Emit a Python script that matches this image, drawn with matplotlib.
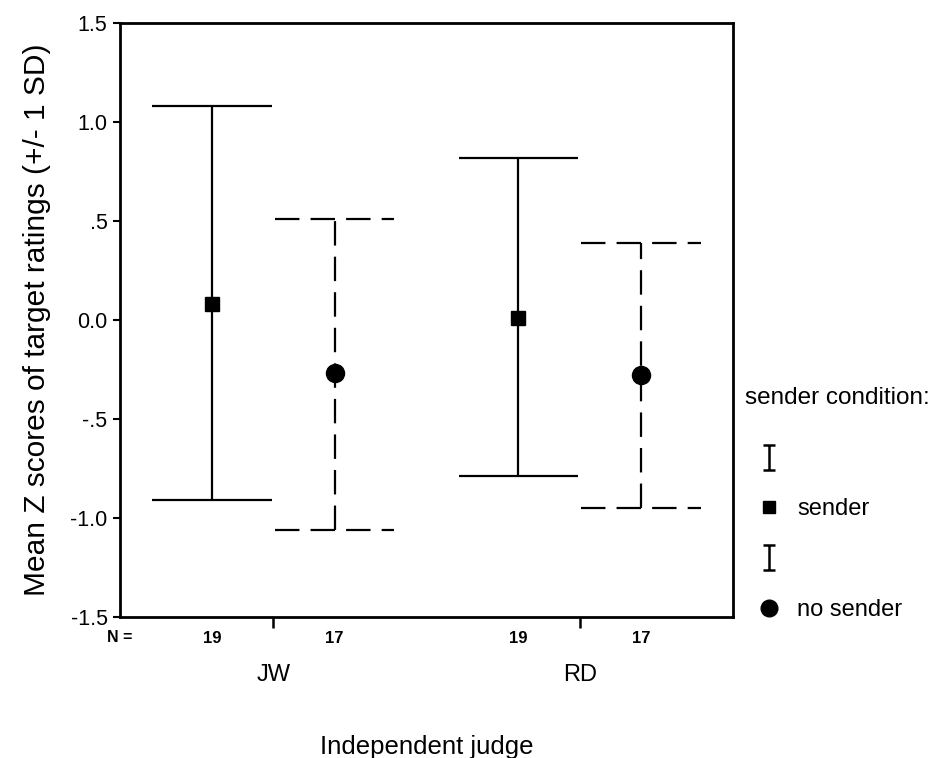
import numpy as np
import matplotlib
matplotlib.use("Agg")
import matplotlib.pyplot as plt
from matplotlib.lines import Line2D
from matplotlib.path import Path
import matplotlib.transforms as mtransforms

plt.rcParams['font.family'] = ['Liberation Sans', 'DejaVu Sans']

# data
judges = ["JW", "RD"]
conditions = ["sender", "no sender"]
mean_sender = [0.08, 0.01]
upper_sender = [1.08, 0.82]
lower_sender = [-0.91, -0.79]
mean_nosender = [-0.27, -0.28]
upper_nosender = [0.51, 0.39]
lower_nosender = [-1.06, -0.95]
n_sender = [19, 19]
n_nosender = [17, 17]

offset = 0.2
cap = 0.195
dash = (0, (11, 5))

fig = plt.figure(figsize=(9.34, 7.58), dpi=100)
ax = fig.add_axes([120 / 934, 1 - 617 / 758, 613 / 934, 594 / 758])

g = np.arange(len(judges))
xs = g - offset
xn = g + offset

# sender: solid
ax.vlines(xs, lower_sender, upper_sender, color="black", lw=1.6)
ax.hlines(upper_sender, xs - cap, xs + cap, color="black", lw=1.6)
ax.hlines(lower_sender, xs - cap, xs + cap, color="black", lw=1.6)
ax.plot(xs, mean_sender, ls="none", marker="s", ms=9.5, color="black")

# no sender: dashed
ax.vlines(xn, lower_nosender, upper_nosender, color="black", lw=1.6, linestyles=[dash])
ax.hlines(upper_nosender, xn - cap, xn + cap, color="black", lw=1.6, linestyles=[dash])
ax.hlines(lower_nosender, xn - cap, xn + cap, color="black", lw=1.6, linestyles=[dash])
ax.plot(xn, mean_nosender, ls="none", marker="o", ms=13, color="black")

ax.set_xlim(-0.5, len(judges) - 0.5)
ax.set_ylim(-1.5, 1.5)
yt = [-1.5, -1.0, -0.5, 0.0, 0.5, 1.0, 1.5]
ax.set_yticks(yt)
ax.set_yticklabels(["-1.5", "-1.0", "-.5", "0.0", ".5", "1.0", "1.5"])
ax.tick_params(axis="y", labelsize=15.5, length=5, width=1.5, pad=4)

# N counts as major tick labels, group ticks as minor ticks
pos = np.sort(np.concatenate([xs, xn]))
labels = []
for i in range(len(judges)):
    labels += [str(n_sender[i]), str(n_nosender[i])]
ax.set_xticks(pos)
ax.set_xticklabels(labels, fontsize=12, fontweight="bold")
ax.tick_params(axis="x", which="major", length=0, pad=10)
ax.set_xticks(g, minor=True)
ax.tick_params(axis="x", which="minor", length=8, width=1.8)

for sp in ax.spines.values():
    sp.set_linewidth(2)

trans = mtransforms.blended_transform_factory(ax.transData, ax.transAxes)
for i, j in enumerate(judges):
    ax.text(g[i], -0.097, j, transform=trans, ha="center", va="center", fontsize=17)
ax.text(0.0, -0.034, "N =", transform=ax.transAxes, ha="center", va="center",
        fontsize=11.5, fontweight="bold")

ax.set_ylabel("Mean Z scores of target ratings (+/- 1 SD)", fontsize=21.5, labelpad=14)
ax.set_xlabel("Independent judge", fontsize=18.5, labelpad=64)

# legend
fig.text(745 / 934, 1 - 398 / 758, "sender condition:", ha="left", va="center", fontsize=17.5)
ibar = Path([(-0.5, 1), (0.5, 1), (0, 1), (0, -1), (-0.5, -1), (0.5, -1)],
            [Path.MOVETO, Path.LINETO, Path.MOVETO, Path.LINETO, Path.MOVETO, Path.LINETO])
h_bar1 = Line2D([], [], ls="none", marker=ibar, ms=18, mfc="none", mec="black", mew=1.8)
h_sq = Line2D([], [], ls="none", marker="s", ms=8, color="black")
h_bar2 = Line2D([], [], ls="none", marker=ibar, ms=18, mfc="none", mec="black", mew=1.8)
h_ci = Line2D([], [], ls="none", marker="o", ms=12, color="black")
leg = fig.legend([h_bar1, h_sq, h_bar2, h_ci], ["", conditions[0], "", conditions[1]],
                 loc="upper left", bbox_to_anchor=(745 / 934, 1 - 448 / 758),
                 frameon=False, fontsize=17, handlelength=2.0,
                 handletextpad=0.2, labelspacing=1.2, borderpad=0,
                 borderaxespad=0)

fig.savefig("out.png", dpi=100)
